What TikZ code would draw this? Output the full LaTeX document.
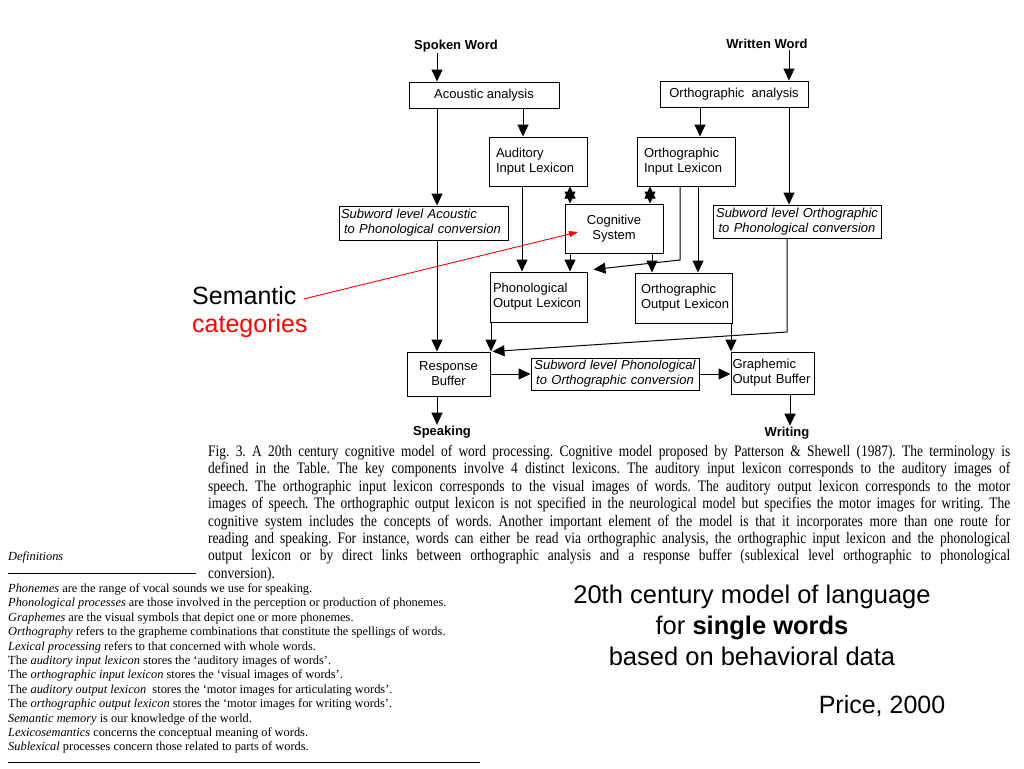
\documentclass[tikz,border=0pt]{standalone}
\usepackage{fontspec}
\setmainfont{Liberation Serif}
\setsansfont{Liberation Sans}
\newfontfamily\capfont[FakeStretch=0.84]{Liberation Serif}
\usetikzlibrary{arrows.meta,calc}
\begin{document}
\frenchspacing
\begin{tikzpicture}[x=1pt,y=-1pt,
  box/.style={draw, line width=1pt, inner xsep=2pt, inner ysep=0pt, font=\sffamily\fontsize{13}{15}\selectfont},
  ibox/.style={box, font=\sffamily\itshape\fontsize{13}{15}\selectfont},
  arr/.style={line width=1pt, -{Triangle[length=12pt,width=11pt]}},
  darr/.style={line width=1pt, {Triangle[length=12pt,width=11pt]}-{Triangle[length=12pt,width=11pt]}},
  lbl/.style={font=\sffamily\bfseries\fontsize{13}{15}\selectfont, inner sep=1pt},
  big/.style={font=\sffamily\fontsize{25.5}{31}\selectfont, inner sep=0pt}]
\useasboundingbox (0,0) rectangle (1024,768);
\fill[white] (0,0) rectangle (1024,768);

% column coordinates
\coordinate (xA) at (437,0);
\coordinate (xB) at (523,0);
\coordinate (xC) at (700,0);
\coordinate (xD) at (789,0);
\coordinate (xE) at (570,0);
\coordinate (xF) at (650,0);
\coordinate (xG) at (680,0);
\coordinate (xH) at (698,0);
\coordinate (xI) at (522,0);
\coordinate (xJ) at (652,0);
\coordinate (xP) at (491,0);
\coordinate (xQ) at (731,0);
\coordinate (xS) at (787,0);
\coordinate (xW) at (790,0);
\coordinate (bend1) at (680,260);
\coordinate (bend2) at (787,332);

% labels
\node[lbl] (sw) at (456,46) {Spoken Word};
\node[lbl] (ww) at (767,44) {Written Word};
\node[lbl] (spk) at (442,432) {Speaking};
\node[lbl] (wri) at (787,433) {Writing};

% boxes
\node[box, minimum width=150, minimum height=26] (acou) at (484,95) {Acoustic analysis};
\node[box, minimum width=148, minimum height=26] (orth) at (734,94) {Orthographic\ \ analysis};
\node[box, minimum width=98, minimum height=49, text width=84, inner xsep=7pt, align=left] (ail) at (538,161.5) {Auditory\\\mbox{Input Lexicon}};
\node[box, minimum width=98, minimum height=49, text width=84, inner xsep=7pt, align=left] (oil) at (686,161.5) {Orthographic\\\mbox{Input Lexicon}};
\node[ibox, minimum width=169, minimum height=34, text width=165, align=left] (swa) at (423.5,223) {Subword level Acoustic\\\hspace*{3pt}to Phonological conversion};
\node[ibox, minimum width=168, minimum height=33, text width=164, align=center] (swo) at (797,221.5) {Subword level Orthographic\\to Phonological conversion};
\node[box, minimum width=98, minimum height=49, align=center] (cog) at (614,228.5) {Cognitive\\System};
\node[box, minimum width=97, minimum height=50, text width=91, inner xsep=3pt, align=left] (pol) at (538.5,297) {Phonological\\\mbox{Output Lexicon}};
\node[box, minimum width=97, minimum height=50, text width=91, inner xsep=3pt, align=left] (ool) at (683.5,298) {\hspace*{3pt}Orthographic\\\hspace*{3pt}\mbox{Output Lexicon}};
\node[box, minimum width=83, minimum height=44, align=center] (rb) at (448.5,374) {Response\\Buffer};
\node[ibox, minimum width=168, minimum height=32, text width=164, align=center] (swp) at (615,374) {Subword level Phonological\\to Orthographic conversion};
\node[box, minimum width=83, minimum height=42, text width=80, inner xsep=1.5pt, align=left] (gob) at (772.5,373) {Graphemic\\\mbox{Output Buffer}};

% connectors
\draw[arr] (sw.south -| xA) -- (acou.north -| xA);
\draw[arr] (ww.south -| xD) -- (orth.north -| xD);
\draw[arr] (acou.south -| xB) -- (ail.north -| xB);
\draw[arr] (orth.south -| xC) -- (oil.north -| xC);
\draw[arr] (acou.south -| xA) -- (swa.north -| xA);
\draw[arr] (orth.south -| xD) -- (swo.north -| xD);
\draw[darr] (ail.south -| xE) -- (cog.north -| xE);
\draw[darr] (oil.south -| xF) -- (cog.north -| xF);
\draw[arr] (ail.south -| xI) -- (pol.north -| xI);
\draw[arr] (cog.south -| xE) -- (pol.north -| xE);
\draw[arr] (cog.south -| xJ) -- (ool.north -| xJ);
\draw[arr] (oil.south -| xG) -- (bend1) -- ([xshift=6pt,yshift=2pt]pol.north east);
\draw[arr] (oil.south -| xH) -- (ool.north -| xH);
\draw[arr] (swa.south -| xA) -- (rb.north -| xA);
\draw[arr] (pol.south -| xP) -- (rb.north -| xP);
\draw[arr] (swo.south -| xS) -- (bend2) -- ([xshift=2pt]rb.north east);
\draw[arr] (ool.south -| xQ) -- (gob.north -| xQ);
\draw[arr] (rb.east) -- (swp.west);
\draw[arr] (swp.east) -- (swp.east -| gob.west);
\draw[arr] (rb.south -| xA) -- (spk.north -| xA);
\draw[arr] (gob.south -| xW) -- (wri.north -| xW);

% semantic categories
\node[big, anchor=west, font=\sffamily\fontsize{25}{31}\selectfont] (sem) at (192,296) {Semantic};
\node[big, anchor=west, font=\sffamily\fontsize{25}{31}\selectfont, text=red] (cat) at (192,326) {categories};
\draw[red, line width=0.9pt, -{Triangle[length=9pt,width=6pt]}] ([xshift=7pt,yshift=-3pt]sem.east) -- ([xshift=-36pt,yshift=-3.5pt]cog.center);

% caption
\node[anchor=north west, text width=802, align=justify, inner sep=0pt, font=\capfont\fontsize{16}{17.4}\selectfont] (cap) at (208,445) {Fig. 3. A 20th century cognitive model of word processing. Cognitive model proposed by Patterson \& Shewell (1987). The terminology is\linebreak
defined in the Table. The key components involve 4 distinct lexicons. The auditory input lexicon corresponds to the auditory images of\linebreak
speech. The orthographic input lexicon corresponds to the visual images of words. The auditory output lexicon corresponds to the motor\linebreak
images of speech. The orthographic output lexicon is not specified in the neurological model but specifies the motor images for writing. The\linebreak
cognitive system includes the concepts of words. Another important element of the model is that it incorporates more than one route for\linebreak
reading and speaking. For instance, words can either be read via orthographic analysis, the orthographic input lexicon and the phonological\linebreak
output lexicon or by direct links between orthographic analysis and a response buffer (sublexical level orthographic to phonological\linebreak
conversion).};

% definitions
\node[anchor=west, inner sep=0pt, font=\itshape\fontsize{12.4}{14.4}\selectfont] (defh) at (8,557) {Definitions};
\draw[line width=0.8pt] (defh.south west |- 0,573) -- (196,573);
\node[anchor=north west, inner sep=0pt, align=left, font=\fontsize{12.4}{14.4}\selectfont] (defs) at (8,583.5) {\textit{Phonemes} are the range of vocal sounds we use for speaking.\\
\textit{Phonological processes} are those involved in the perception or production of phonemes.\\
\textit{Graphemes} are the visual symbols that depict one or more phonemes.\\
\textit{Orthography} refers to the grapheme combinations that constitute the spellings of words.\\
\textit{Lexical processing} refers to that concerned with whole words.\\
The \textit{auditory input lexicon} stores the ‘auditory images of words’.\\
The \textit{orthographic input lexicon} stores the ‘visual images of words’.\\
The \textit{auditory output lexicon}\ \ stores the ‘motor images for articulating words’.\\
The \textit{orthographic output lexicon} stores the ‘motor images for writing words’.\\
\textit{Semantic memory} is our knowledge of the world.\\
\textit{Lexicosemantics} concerns the conceptual meaning of words.\\
\textit{Sublexical} processes concern those related to parts of words.};
\draw[line width=0.8pt] (defs.south west |- 0,762) -- (480,762);

% right title
\node[big, align=center] (title) at (752,625) {20th century model of language\\for \textbf{single words}\\based on behavioral data};
\node[big, font=\sffamily\fontsize{25}{31}\selectfont] (price) at (882,706) {Price, 2000};
\end{tikzpicture}
\end{document}
